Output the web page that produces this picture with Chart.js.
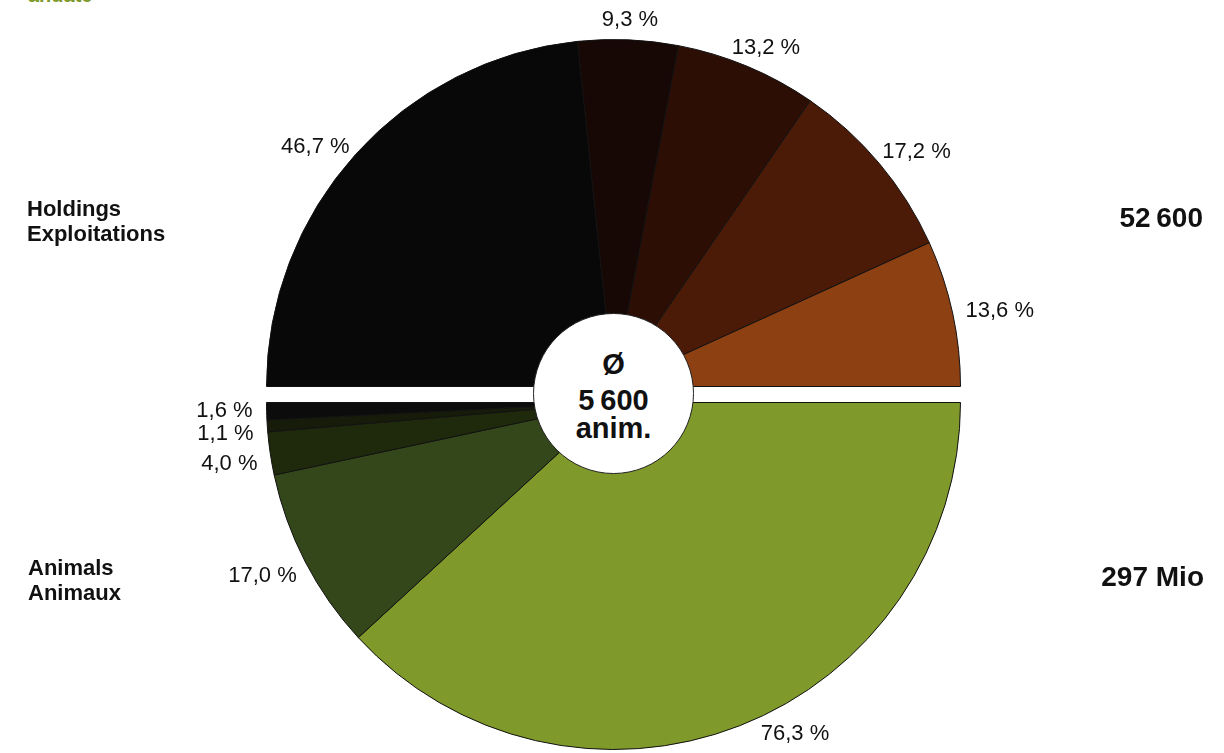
<!DOCTYPE html>
<html>
<head>
<meta charset="utf-8">
<script src="https://cdn.jsdelivr.net/npm/chart.js@4/dist/chart.umd.min.js"></script>
<style>
  html, body { margin: 0; padding: 0; background: #fff; }
  body { width: 1224px; height: 753px; position: relative; overflow: hidden;
    font-family: "Liberation Sans", Arial, sans-serif; color: #111; }
  canvas { position: absolute; left: 0; top: 0; }
  .side { position: absolute; font-weight: bold; font-size: 22px; line-height: 25px; }
  .big { position: absolute; font-weight: bold; font-size: 28px; line-height: 28px; text-align: right; }
  #hole { position: absolute; left: 533px; top: 313px; width: 161px; height: 161px;
    border-radius: 50%; background: #fff; border: 1.5px solid #222; box-sizing: border-box; z-index: 5; }
  .c { position: absolute; left: 0; width: 100%; text-align: center; font-weight: bold;
    font-size: 29px; line-height: 28px; }
  #cut { position: absolute; left: 28px; top: -15px; font-size: 20px; line-height: 20px;
    font-weight: bold; color: #7d9a2a; }
</style>
</head>
<body>
<div id="cut">andate</div>
<canvas id="holdings" width="1224" height="753"></canvas>
<canvas id="animals" width="1224" height="753"></canvas>

<div class="side" style="left:27px; top:196px;">Holdings<br>Exploitations</div>
<div class="side" style="left:28px; top:555px;">Animals<br>Animaux</div>
<div class="big" style="right:21px; top:204px;">52&#8201;600</div>
<div class="big" style="right:20px; top:563px;">297 Mio</div>

<div id="hole">
  <div class="c" style="top:36px;">Ø</div>
  <div class="c" style="top:72px;">5&#8201;600</div>
  <div class="c" style="top:100px;">anim.</div>
</div>

<script>
// Holdings by herd size class (upper half), share of animals (lower half)
const holdingShares = [46.7, 9.3, 13.2, 17.2, 13.6];
const holdingColors = ['#080808', '#170805', '#2d0e05', '#4b1b08', '#8d4012'];

const animalShares = [76.3, 17.0, 4.0, 1.1, 1.6];
const animalColors = ['#7f992b', '#34471a', '#1f290c', '#171b09', '#0c0c0c'];

function pctText(v) {
  return v.toFixed(1).replace('.', ',') + ' %';
}

// Draws the percentage next to each slice, just outside the rim.
const outerLabels = {
  id: 'outerLabels',
  afterDatasetsDraw(chart, args, opts) {
    const ctx = chart.ctx,
      meta = chart.getDatasetMeta(0),
      data = chart.data.datasets[0].data,
      nudge = opts.nudge || {};
    ctx.save();
    ctx.font = '22px "Liberation Sans", Arial, sans-serif';
    ctx.fillStyle = '#111';
    ctx.textAlign = 'center';
    ctx.textBaseline = 'middle';
    meta.data.forEach((arc, i) => {
      let mid = (arc.startAngle + arc.endAngle) / 2 + (nudge[i] || 0) * Math.PI / 180,
        r = arc.outerRadius + 14,
        txt = pctText(data[i]),
        w = ctx.measureText(txt).width,
        h = 18,
        x = arc.x + Math.cos(mid) * r + Math.cos(mid) * w / 2,
        y = arc.y + Math.sin(mid) * r + Math.sin(mid) * h / 2 + 3;
      ctx.fillText(txt, x, y);
    });
    ctx.restore();
  }
};

function halfPie(id, shares, colors, rotation, padding, nudge) {
  new Chart(document.getElementById(id).getContext('2d'), {
    type: 'pie',
    data: {
      labels: shares.map(pctText),
      datasets: [{
        data: shares,
        backgroundColor: colors,
        borderColor: '#111',
        borderWidth: 1
      }]
    },
    options: {
      responsive: false,
      animation: false,
      rotation: rotation,
      circumference: 180,
      layout: { padding: padding },
      plugins: {
        legend: { display: false },
        tooltip: { enabled: false },
        outerLabels: { nudge: nudge }
      }
    },
    plugins: [outerLabels]
  });
}

halfPie('holdings', holdingShares, holdingColors, -90,
  { left: 265, right: 262, top: 39, bottom: 366 }, { 0: -1 });
halfPie('animals', animalShares, animalColors, 90,
  { left: 265, right: 262, top: 402, bottom: 3 }, { 0: -6, 2: -0.7, 3: -0.5, 4: 0.6 });
</script>
</body>
</html>
